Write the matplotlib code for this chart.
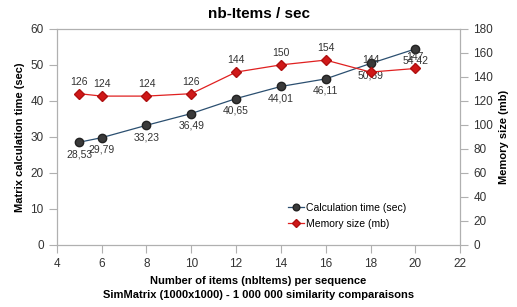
import matplotlib
matplotlib.use("Agg")
import matplotlib.pyplot as plt

x_items = [5, 6, 8, 10, 12, 14, 16, 18, 20]
calc_time = [28.53, 29.79, 33.23, 36.49, 40.65, 44.01, 46.11, 50.39, 54.42]
calc_labels = ["28,53", "29,79", "33,23", "36,49", "40,65", "44,01", "46,11", "50,39", "54,42"]
memory_mb = [126, 124, 124, 126, 144, 150, 154, 144, 147]

plt.rcParams['font.family'] = ['Liberation Sans', 'DejaVu Sans']

fig = plt.figure(figsize=(5.17, 3.07), dpi=100)
ax = fig.add_axes([0.110, 0.202, 0.780, 0.704])
ax2 = ax.twinx()

grey = '#b0b0b0'
l1, = ax.plot(x_items, calc_time, color='#2b4f70', lw=0.9, marker='o', ms=6,
              mfc='#3a3a3a', mec='#222222', label='Calculation time (sec)', zorder=3)
l2, = ax2.plot(x_items, memory_mb, color='#e02020', lw=0.9, marker='D', ms=5,
               mfc='#d01818', mec='#b01010', label='Memory size (mb)', zorder=3)

for xv, yv, lab in zip(x_items, calc_time, calc_labels):
    ax.annotate(lab, (xv, yv), xytext=(0, -5), textcoords='offset points',
                ha='center', va='top', fontsize=7.5, color='#333333')
for xv, yv in zip(x_items, memory_mb):
    ax2.annotate(str(yv), (xv, yv), xytext=(0, 5), textcoords='offset points',
                 ha='center', va='bottom', fontsize=7.5, color='#333333')

ax.set_xlim(4, 22)
ax.set_ylim(0, 60)
ax2.set_ylim(0, 180)
ax.set_xticks(range(4, 23, 2))
ax.set_yticks(range(0, 61, 10))
ax2.set_yticks(range(0, 181, 20))

for a in (ax, ax2):
    for s in a.spines.values():
        s.set_color(grey)
        s.set_linewidth(0.8)
    a.tick_params(colors=grey, labelcolor='#333333', labelsize=8.5, length=6,
                  width=0.8, direction='out')

ax.set_title('nb-Items / sec', fontsize=11, fontweight='bold', pad=8)
ax.set_xlabel('Number of items (nbItems) per sequence\nSimMatrix (1000x1000) - 1 000 000 similarity comparaisons',
              fontsize=8, fontweight='bold', labelpad=4, linespacing=1.5)
ax.set_ylabel('Matrix calculation time (sec)', fontsize=8, fontweight='bold')
ax2.set_ylabel('Memory size (mb)', fontsize=8, fontweight='bold')

leg = ax.legend(handles=[l1, l2], loc='lower left', bbox_to_anchor=(0.55, 0.03),
                frameon=False, fontsize=7.5, handlelength=1.5, handletextpad=0.2,
                labelspacing=0.6, markerscale=0.8)

fig.savefig('out.png', dpi=100)
